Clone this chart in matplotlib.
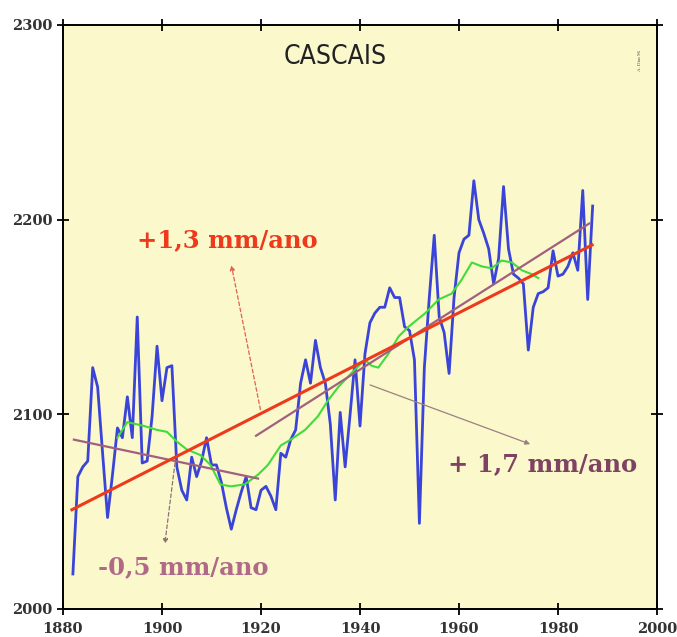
import matplotlib
matplotlib.use("Agg")
import matplotlib.pyplot as plt
import numpy as np

# ---- data ----
years = list(range(1882, 1988))
sea_level = [2018, 2068, 2073, 2076, 2124, 2114, 2080, 2047, 2069, 2093,
             2088, 2109, 2088, 2150, 2075, 2076, 2099, 2135, 2107, 2124,
             2125, 2073, 2061, 2056, 2078, 2068, 2076, 2088, 2074, 2074,
             2065, 2052, 2041, 2051, 2060, 2068, 2052, 2051, 2061, 2063,
             2058, 2051, 2080, 2078, 2087, 2092, 2116, 2128, 2116, 2138,
             2124, 2116, 2095, 2056, 2101, 2073, 2100, 2128, 2094, 2131,
             2147, 2152, 2155, 2155, 2165, 2160, 2160, 2145, 2143, 2128,
             2044, 2124, 2160, 2192, 2150, 2142, 2121, 2160, 2183, 2190,
             2192, 2220, 2200, 2193, 2185, 2167, 2180, 2217, 2185, 2172,
             2170, 2167, 2133, 2155, 2162, 2163, 2165, 2184, 2171, 2172,
             2176, 2183, 2174, 2215, 2159, 2207]

smooth_years = [1891, 1893, 1896.4, 1899, 1901, 1903, 1905, 1907.8, 1909.8,
                1911.8, 1913.9, 1916.7, 1919.4, 1921.4, 1924, 1926, 1928.9,
                1931.5, 1933.5, 1935.6, 1938.2, 1941, 1942.3, 1943.7, 1945.7,
                1947.8, 1949.8, 1953.2, 1955.9, 1958.5, 1960.5, 1962.6, 1964.6,
                1966.6, 1968.6, 1970.7, 1972.7, 1974.7, 1976]
smooth_vals = [2088, 2096, 2094, 2092, 2091, 2086, 2082, 2079, 2074,
               2064, 2063, 2064, 2069, 2074, 2084, 2087, 2092,
               2099, 2107, 2114, 2121, 2128, 2125, 2124, 2131,
               2140, 2145, 2152, 2159, 2162, 2169, 2178, 2176,
               2175, 2179, 2178, 2174, 2172, 2170]

trend_all_x = [1881.8, 1986.9]
trend_all_y = [2051, 2187]
trend_early_x = [1882.2, 1919.4]
trend_early_y = [2087, 2067]
trend_late_x = [1919.0, 1986.3]
trend_late_y = [2089, 2198]

xticks = [1880, 1900, 1920, 1940, 1960, 1980, 2000]
yticks = [2000, 2100, 2200, 2300]

# ---- figure ----
fig = plt.figure(figsize=(6.77, 6.37), dpi=100)
ax = fig.add_axes([63/677, 1 - 609/637, (657-63)/677, (609-25)/637])
ax.set_facecolor("#fbf8cb")

blue = "#3a44d8"
green = "#3fdc3a"
red = "#ee3a1c"
mauve = "#a0607e"

ax.plot(years, sea_level, color=blue, lw=2.0, zorder=3)
ax.plot(smooth_years, smooth_vals, color=green, lw=1.5, zorder=4)
ax.plot(trend_early_x, trend_early_y, color=mauve, lw=1.6, zorder=5)
ax.plot(trend_late_x, trend_late_y, color=mauve, lw=1.6, zorder=5)
ax.plot(trend_all_x, trend_all_y, color=red, lw=2.2, zorder=6)

ax.set_xlim(1880, 2000)
ax.set_ylim(2000, 2300)
ax.set_xticks(xticks)
ax.set_yticks(yticks)
ax.set_xticklabels([str(t) for t in xticks])
ax.set_yticklabels([str(t) for t in yticks])

for s in ax.spines.values():
    s.set_linewidth(1.4)
    s.set_color("black")
ax.tick_params(direction="inout", length=9, width=1.3, top=True, right=True,
               labelsize=10.5, pad=3)
ax.tick_params(axis="x", pad=5)
for lab in ax.get_xticklabels() + ax.get_yticklabels():
    lab.set_fontfamily("DejaVu Serif")
    lab.set_fontweight("bold")
    lab.set_color("#333333")

serif = "DejaVu Serif"
ax.text(1935, 2283.5, "CASCAIS", ha="center", va="center", fontsize=19,
        family="DejaVu Sans", fontstretch="condensed", color="#222222")
ax.text(1996.5, 2282, "A. Dias 96", rotation=90, ha="center", va="center",
        fontsize=3.5, family="Liberation Serif", color="#444444")

ax.text(1913.2, 2189.5, "+1,3 mm/ano", ha="center", va="center", fontsize=17.5,
        family=serif, fontweight="bold", color=red)
ax.annotate("", xy=(1913.9, 2178), xytext=(1920, 2101),
            arrowprops=dict(arrowstyle="-|>", color="#e06050", lw=0.9,
                            linestyle=(0, (3, 2)), mutation_scale=7))

ax.text(1904.3, 2021.6, "-0,5 mm/ano", ha="center", va="center", fontsize=17.5,
        family=serif, fontweight="bold", color="#b06a88")
ax.annotate("", xy=(1900.5, 2032), xytext=(1902.7, 2076.5),
            arrowprops=dict(arrowstyle="-|>", color="#907078", lw=0.9,
                            linestyle=(0, (3, 2)), mutation_scale=7))

ax.text(1976.8, 2074.5, "+ 1,7 mm/ano", ha="center", va="center", fontsize=17.5,
        family=serif, fontweight="bold", color="#7e4262")
ax.annotate("", xy=(1974.9, 2084.2), xytext=(1941.5, 2115.6),
            arrowprops=dict(arrowstyle="-|>", color="#9a8080", lw=0.9,
                            mutation_scale=7))

fig.savefig("out.png", dpi=100, facecolor="white")
